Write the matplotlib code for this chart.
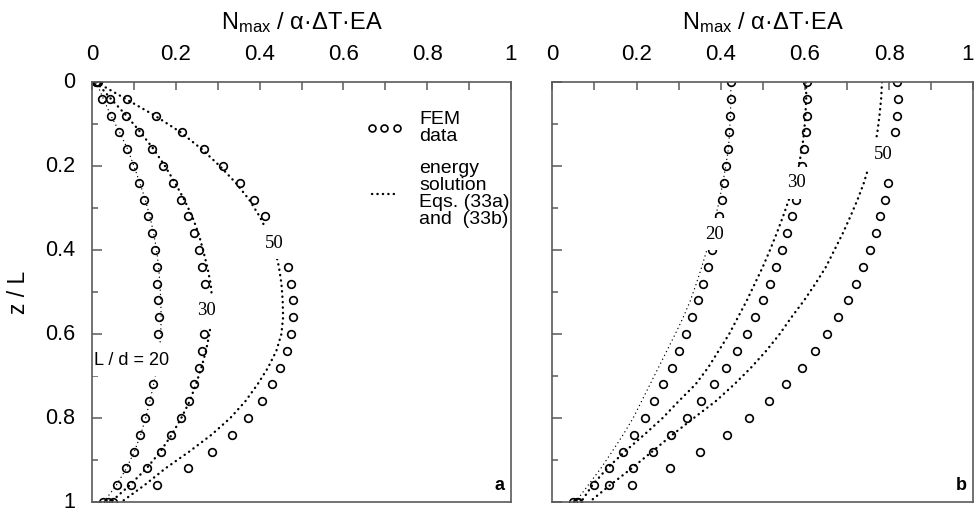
import numpy as np
import matplotlib
matplotlib.use("Agg")
import matplotlib.pyplot as plt
from matplotlib.lines import Line2D

plt.rcParams['font.family'] = ['Liberation Sans', 'DejaVu Sans']
plt.rcParams['mathtext.fontset'] = 'custom'
plt.rcParams['mathtext.rm'] = 'Liberation Sans'
plt.rcParams['mathtext.it'] = 'Liberation Sans'

# depth along the pile, z / L
z = [0.00, 0.04, 0.08, 0.12, 0.16, 0.20, 0.24, 0.28, 0.32, 0.36, 0.40, 0.44, 0.48,
     0.52, 0.56, 0.60, 0.64, 0.68, 0.72, 0.76, 0.80, 0.84, 0.88, 0.92, 0.96, 1.00]
nan = np.nan

# (a) FEM data
fem_a20 = [0.010, 0.023, 0.045, 0.064, 0.083, 0.097, 0.111, 0.123, 0.133, 0.142, 0.150, 0.154, 0.156,
           0.158, 0.159, 0.158, nan, nan, 0.145, 0.136, 0.126, 0.114, 0.099, 0.080, 0.059, 0.027]
fem_a30 = [0.012, 0.043, 0.080, 0.112, 0.143, 0.169, 0.193, 0.212, 0.229, 0.243, 0.255, 0.263, 0.269,
           nan, nan, 0.267, 0.263, 0.255, 0.244, 0.231, 0.212, 0.189, 0.164, 0.132, 0.092, 0.039]
fem_a50 = [0.014, 0.083, 0.153, 0.215, 0.268, 0.313, 0.353, 0.387, 0.414, nan, nan, 0.467, 0.476,
           0.480, 0.480, 0.474, 0.465, 0.449, 0.430, 0.405, 0.373, 0.334, 0.286, 0.230, 0.156, 0.051]
# (a) energy solution
sol_a20 = [0.010, 0.027, 0.045, 0.066, 0.085, 0.100, 0.114, 0.127, 0.138, 0.147, 0.154, 0.159, 0.162,
           0.164, 0.165, 0.164, 0.161, 0.155, 0.147, 0.138, 0.128, 0.116, 0.101, 0.082, 0.058, 0.028]
sol_a30 = [0.010, 0.045, 0.082, 0.116, 0.147, 0.174, 0.198, 0.220, 0.239, 0.254, 0.265, 0.275, 0.283,
           0.287, 0.286, 0.280, 0.272, 0.261, 0.248, 0.233, 0.213, 0.190, 0.163, 0.130, 0.090, 0.045]
sol_a50 = [0.010, 0.080, 0.150, 0.212, 0.262, 0.305, 0.343, 0.375, 0.400, 0.420, 0.437, 0.446, 0.452,
           0.455, 0.456, 0.452, 0.440, 0.420, 0.395, 0.366, 0.330, 0.285, 0.232, 0.175, 0.125, 0.070]

# (b) FEM data
fem_b20 = [0.424, 0.424, 0.422, 0.420, 0.417, 0.413, 0.407, 0.402, 0.395, nan, 0.379, 0.369, 0.357,
           0.345, 0.332, 0.317, 0.301, 0.284, 0.264, 0.242, 0.220, 0.195, 0.167, 0.135, 0.099, 0.050]
fem_b30 = [0.604, 0.606, 0.605, 0.602, 0.597, 0.593, nan, 0.578, 0.569, 0.557, 0.546, 0.532, 0.517,
           0.500, 0.481, 0.462, 0.438, 0.413, 0.384, 0.354, 0.320, 0.283, 0.240, 0.192, 0.135, 0.058]
fem_b50 = [0.818, 0.820, 0.818, 0.815, nan, nan, 0.798, 0.790, 0.779, 0.768, 0.755, 0.739, 0.721,
           0.702, 0.679, 0.652, 0.625, 0.592, 0.555, 0.514, 0.467, 0.414, 0.351, 0.280, 0.190, 0.062]
# (b) energy solution
sol_b20 = [0.424, 0.424, 0.423, 0.421, 0.418, 0.412, 0.405, 0.397, 0.388, 0.378, 0.367, 0.355, 0.342,
           0.328, 0.311, 0.292, 0.272, 0.252, 0.232, 0.212, 0.192, 0.168, 0.142, 0.115, 0.085, 0.055]
sol_b30 = [0.603, 0.603, 0.601, 0.598, 0.593, 0.585, 0.575, 0.562, 0.548, 0.533, 0.517, 0.500, 0.481,
           0.462, 0.441, 0.420, 0.395, 0.370, 0.340, 0.300, 0.262, 0.218, 0.172, 0.130, 0.095, 0.068]
sol_b50 = [0.783, 0.781, 0.777, 0.772, 0.765, 0.752, 0.740, 0.725, 0.708, 0.690, 0.670, 0.650, 0.625,
           0.598, 0.568, 0.540, 0.508, 0.472, 0.432, 0.388, 0.336, 0.285, 0.237, 0.188, 0.137, 0.088]

xticks = [0, 0.2, 0.4, 0.6, 0.8, 1]
xtick_labels = ['0', '0.2', '0.4', '0.6', '0.8', '1']
spine_col = '#5a5a5a'

fig = plt.figure(figsize=(9.75, 5.12), dpi=100)
ax_a = fig.add_axes([0.0944, 0.0195, 0.4297, 0.8203])
ax_b = fig.add_axes([0.5665, 0.0195, 0.4318, 0.8203])


def draw_curves(ax, fems, sols):
    for f in fems:
        ax.plot(f, z, 'o', ms=5.5, mfc='none', mec='black', mew=1.2, zorder=3)
    for k, s in enumerate(sols):
        if k == 0:
            ax.plot(s, z, color='black', lw=1.0, ls=(0, (0.1, 3.0)),
                    dash_capstyle='round', zorder=2)
        else:
            ax.plot(s, z, color='black', lw=1.7, ls=(0, (0.1, 2.2)),
                    dash_capstyle='round', zorder=2)


def setup(ax, show_y):
    ax.set_xlim(0, 1)
    ax.set_ylim(1, 0)
    ax.xaxis.tick_top()
    ax.xaxis.set_label_position('top')
    ax.set_xticks(xticks)
    ax.set_xticklabels(xtick_labels)
    ax.set_xticks(np.arange(0.1, 1.0, 0.2), minor=True)
    ax.set_yticks(xticks)
    ax.set_yticks(np.arange(0.1, 1.0, 0.2), minor=True)
    ax.tick_params(axis='x', which='major', direction='in', length=6, width=1.1,
                   color=spine_col, labelsize=16, pad=12)
    ax.tick_params(axis='x', which='minor', direction='in', length=5.5, width=1.1,
                   color=spine_col)
    ax.tick_params(axis='y', which='major', direction='in', length=7.5, width=1.1,
                   color=spine_col, labelsize=15.5, pad=12, labelleft=show_y)
    ax.tick_params(axis='y', which='minor', direction='in', length=4.5, width=1.1,
                   color=spine_col)
    if show_y:
        ax.set_yticklabels(xtick_labels, va='center')
        ax.set_ylabel('z / L', fontsize=16.5, labelpad=11)
    for sp in ax.spines.values():
        sp.set_color(spine_col)
        sp.set_linewidth(1.2)
        sp.set_zorder(5)
    ax.set_xlabel(r'N$_{\mathrm{max}}$ / α·ΔT·EA', fontsize=17, labelpad=11)


draw_curves(ax_a, [fem_a20, fem_a30, fem_a50], [sol_a20, sol_a30, sol_a50])
draw_curves(ax_b, [fem_b20, fem_b30, fem_b50], [sol_b20, sol_b30, sol_b50])
setup(ax_a, True)
setup(ax_b, False)
# the last tick label sits on the figure edge
ax_b.get_xticklabels()[-1].set_horizontalalignment('right')

box = dict(facecolor='white', edgecolor='none', boxstyle='square,pad=0.4')
serif = dict(family='Liberation Serif', fontsize=13.5, ha='center', va='center',
             bbox=box, zorder=4)
ax_a.text(0.095, 0.662, 'L / d = 20', fontsize=13, ha='center', va='center', bbox=box, zorder=4)
ax_a.text(0.274, 0.545, '30', **serif)
ax_a.text(0.435, 0.384, '50', **serif)
ax_b.text(0.386, 0.362, '20', **serif)
ax_b.text(0.580, 0.240, '30', **serif)
ax_b.text(0.786, 0.172, '50', **serif)

ax_a.text(0.985, 0.04, 'a', fontsize=13, fontweight='bold', ha='right', va='center',
          transform=ax_a.transAxes)
ax_b.text(0.985, 0.04, 'b', fontsize=13, fontweight='bold', ha='right', va='center',
          transform=ax_b.transAxes)

handles = [
    Line2D([], [], ls='none', marker='o', ms=5, mfc='none', mec='black', mew=1.2),
    Line2D([], [], color='black', lw=1.7, ls=(0, (0.1, 2.2)), dash_capstyle='round'),
]
labels = ['FEM\ndata', 'energy\nsolution\nEqs. (33a)\nand  (33b)']
leg = ax_a.legend(handles, labels, loc='upper left', bbox_to_anchor=(0.655, 0.93), frameon=False,
                  numpoints=3, handlelength=1.85, handletextpad=0.85, labelspacing=0.75,
                  fontsize=14, borderpad=0, borderaxespad=0)
for t in leg.get_texts():
    t.set_linespacing(1.0)

fig.savefig('out.png', dpi=100)
